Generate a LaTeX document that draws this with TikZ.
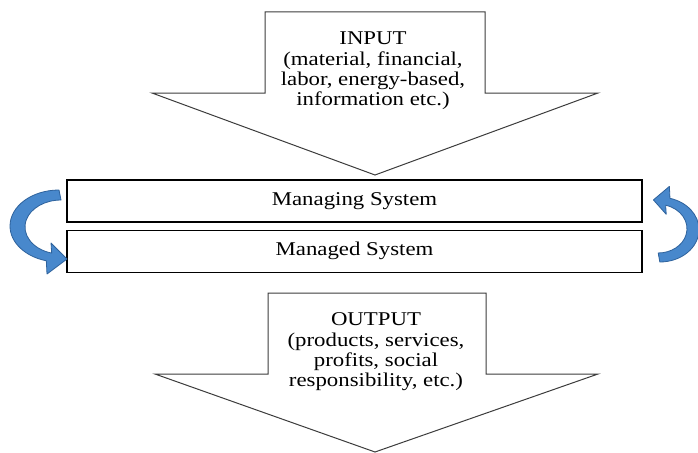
\documentclass[tikz,border=0pt]{standalone}
\usepackage{fontspec}
\setmainfont{Liberation Serif}
\usetikzlibrary{positioning}

\definecolor{curlfill}{RGB}{72,136,204}
\definecolor{curlline}{RGB}{46,98,156}
\definecolor{edgegray}{RGB}{60,60,60}

\begin{document}
\begin{tikzpicture}[x=1pt, y=-1pt, node distance=7pt,
    blocktext/.style={align=center, font=\fontsize{19.5}{20.4}\selectfont, xscale=1.17, inner sep=0pt},
    sysbox/.style={draw, line width=1.2pt, minimum width=575pt/1.17, minimum height=42pt,
        inner sep=0pt, font=\fontsize{19.5}{20.4}\selectfont, xscale=1.17},
    blockarrow/.style={draw=edgegray, line width=1pt, fill=white, line join=miter},
    curl/.style={fill=curlfill, draw=curlline, line width=0.8pt, line join=round}]

    \useasboundingbox (0,0) rectangle (698,452);

    % input arrow
    \draw[blockarrow] (265,12) -- (485,12) -- (485,93) -- (598,93) -- (375,175)
        -- (152,93) -- (265,93) -- cycle;
    \node[blocktext] (input) at (373,71)
        {INPUT\\(material, financial,\\labor, energy-based,\\information etc.)};

    % the two systems
    \node[sysbox] (managing) at (354.5,201) {Managing System};
    \node[sysbox, below=of managing] (managed) {Managed System};

    % output arrow
    \draw[blockarrow] (268,293) -- (486,293) -- (486,374) -- (598,374) -- (375,452)
        -- (155,374) -- (268,374) -- cycle;
    \node[blocktext] (output) at (376,352)
        {OUTPUT\\(products, services,\\profits, social\\responsibility, etc.)};

    % curved arrows
    \path[curl] (59,190) arc[start angle=270, end angle=105, x radius=49, y radius=36]
        -- (47,274) -- (67,259) -- (51,243) -- (51.7,253.1)
        arc[start angle=105, end angle=270, x radius=36, y radius=27] -- cycle;
    \begin{scope}[shift={(707,433)}, xscale=-0.8, yscale=-0.9]
        \path[curl] (59,190) arc[start angle=270, end angle=105, x radius=49, y radius=36]
            -- (47,274) -- (67,259) -- (51,243) -- (51.7,253.1)
            arc[start angle=105, end angle=270, x radius=36, y radius=27] -- cycle;
    \end{scope}

\end{tikzpicture}
\end{document}
